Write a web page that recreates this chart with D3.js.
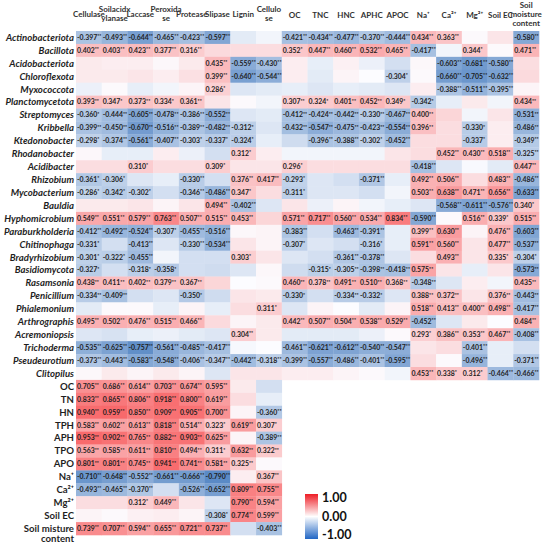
<!DOCTYPE html>
<html><head><meta charset="utf-8">
<script src="https://cdn.jsdelivr.net/npm/d3@7"></script>
<style>
body{margin:0;background:#fff;}
svg{display:block;font-family:Lato,"Open Sans",sans-serif;}
</style></head><body>
<svg id="chart" width="550" height="547"></svg>
<script>
// ---- column categories ----
const enzymeCols = ["Cellulase","Soilacidx\nylanase","Laccase","Peroxida\nse","Protease","Slipase","Lignin","Cellulo\nse"];
const soilCols = ["OC","TNC","HNC","APHC","APOC","Na⁺","Ca²⁺","Mg²⁺","Soil EC","Soil\nmoisture\ncontent"];

// ---- row categories ----
const microbeRows = ["Actinobacteriota","Bacillota","Acidobacteriota","Chloroflexota","Myxococcota","Planctomycetota","Streptomyces","Kribbella","Ktedonobacter","Rhodanobacter","Acidibacter","Rhizobium","Mycobacterium","Bauldia","Hyphomicrobium","Paraburkholderia","Chitinophaga","Bradyrhizobium","Basidiomycota","Rasamsonia","Penicillium","Phialemonium","Arthrographis","Acremoniopsis","Trichoderma","Pseudeurotium","Clitopilus"];
const soilRows = ["OC","TN","HN","TPH","APH","TPO","APO","Na⁺","Ca²⁺","Mg²⁺","Soil EC","Soil misture\ncontent"];

// ---- correlation values (strings = printed significant values; numbers = unlabeled cells, estimated from colour) ----
const microbeValues = [
 ["-0.397**","-0.493**","-0.644**","-0.465**","-0.423**","-0.597**",-0.12,-0.05,"-0.421**","-0.434**","-0.477**","-0.370**","-0.444**","0.434**","0.363**",0.02,0.15,"-0.580**"],
 ["0.402**","0.403**","0.423**","0.377**","0.316**",0.22,0.2,0.2,"0.352*","0.447**","0.460**","0.532**","0.465**","-0.417**",-0.05,"0.344*",0.02,"0.471**"],
 [0.12,0.1,0.1,0.03,0.12,"0.435**","-0.559**","-0.430**",0.1,-0.1,0.08,-0.08,-0.2,0.03,"-0.603**","-0.681**","-0.580**",0.2],
 [0.12,0.12,0.15,0.1,0.18,"0.399**","-0.640**","-0.544**",0.1,-0.12,0.05,0,"-0.304*",0.02,"-0.660**","-0.705**","-0.632**",0.22],
 [-0.08,0.02,-0.1,-0.05,0.05,"0.286*",-0.15,-0.12,-0.1,-0.15,-0.1,-0.12,-0.15,0.1,"-0.388**","-0.511**","-0.395**",0.05],
 ["0.393**","0.347*","0.373**","0.334*","0.361**",0.15,0.02,-0.05,"0.307**","0.324*","0.401**","0.452**","0.349*","-0.342*",-0.1,0.12,-0.05,"0.434**"],
 ["-0.360*","-0.444**","-0.605**","-0.478**","-0.386**","-0.552**",-0.15,-0.12,"-0.412**","-0.424**","-0.442**","-0.330**","-0.467**","0.400**",0.25,-0.05,0.15,"-0.531**"],
 ["-0.399**","-0.450**","-0.670**","-0.516**","-0.389**","-0.482**","-0.312*",-0.15,"-0.432**","-0.547**","-0.475**","-0.423**","-0.554**","0.396**",0.2,"-0.330*",0.1,"-0.486**"],
 ["-0.298*","-0.374**","-0.561**","-0.407**","-0.303*","-0.337*","-0.324*",-0.1,-0.22,"-0.396**","-0.388**","-0.302*","-0.452**",0.2,0.2,"-0.337*",0.1,"-0.349**"],
 [0.03,-0.1,-0.1,0.1,-0.08,-0.2,"0.312*",0.1,-0.05,-0.05,-0.05,-0.05,0.15,0.2,"0.452**","0.430**","0.518**","-0.325**"],
 [0.2,0.2,"0.310*",0.2,0.2,"0.309*",0.15,0.15,"0.296*",0.2,0.2,0.2,0.2,"-0.418**",-0.15,-0.02,-0.12,"0.447**"],
 ["-0.361*","-0.306*",-0.15,-0.1,"-0.330**",-0.2,"0.376**","0.417**","-0.293*",-0.15,-0.2,"-0.371**",-0.1,"0.492**","0.506**",0.2,"0.483**","-0.486**"],
 ["-0.286*","-0.342*","-0.302*",-0.2,"-0.346**","-0.486**","0.347*",0.2,"-0.311*",-0.15,-0.15,-0.2,-0.05,"0.503**","0.638**","0.471**","0.656**","-0.633**"],
 [0.12,0.12,0.15,0.05,0.15,"0.494**","-0.402**",-0.15,0.15,-0.08,0.05,-0.05,-0.1,-0.15,"-0.568**","-0.611**","-0.576**","0.340*"],
 ["0.549**","0.551**","0.579**","0.763**","0.507**","0.515**","0.453**",0.25,"0.571**","0.717**","0.560**","0.534**","0.834**","-0.590**",0.02,"0.516**","0.339*","0.515**"],
 ["-0.412**","-0.492**","-0.524**","-0.307*","-0.455**","-0.516**",0.03,0.05,"-0.383**",-0.2,"-0.463**","-0.391**",-0.1,"0.399**","0.630**",0.05,"0.476**","-0.603**"],
 ["-0.331*",-0.2,"-0.413**",-0.15,"-0.330**","-0.534**",0.15,0.05,"-0.307*",-0.15,-0.2,"-0.316*",-0.1,"0.591**","0.560**",0.15,"0.477**","-0.537**"],
 ["-0.301*","-0.322*","-0.455**",-0.05,-0.2,-0.2,"0.303*",0.15,-0.15,-0.2,"-0.361**","-0.378**",-0.15,0.2,"0.493**",0.15,"0.335*","-0.304*"],
 ["-0.327*",-0.2,"-0.318*","-0.358*",-0.2,-0.22,-0.15,0.03,-0.22,"-0.315*","-0.305**","-0.398**","-0.418**","0.575**",0.15,-0.1,0.15,"-0.573**"],
 ["0.438**","0.411**","0.402**","0.379**","0.367**",0.25,0,0.02,"0.460**","0.378**","0.491**","0.510**","0.368**","-0.348**",-0.15,0.1,-0.05,"0.435**"],
 ["-0.334**","-0.409**",-0.2,-0.15,"-0.350*",-0.22,0.15,0.12,"-0.330*",-0.2,"-0.334**","-0.332*",-0.15,"0.388**","0.372**",0.15,"0.376**","-0.443**"],
 [-0.12,0.02,0.02,-0.1,0.05,-0.1,0.2,"0.311*",-0.15,0.05,0,-0.12,0.05,"0.518**","0.413**","0.400**","0.498**","-0.417**"],
 ["0.495**","0.502**","0.476**","0.515**","0.466**",0.22,0.05,0.12,"0.442**","0.507**","0.504**","0.538**","0.529**","-0.452**",-0.15,0.12,0,"0.484**"],
 [-0.15,-0.18,-0.1,-0.08,-0.12,-0.15,"0.304**",0.12,-0.12,-0.12,-0.12,-0.08,0.02,"0.293*","0.386**","0.353**","0.467**","-0.408**"],
 ["-0.535**","-0.625**","-0.757**","-0.561**","-0.485**","-0.417**",-0.03,0,"-0.461**","-0.621**","-0.612**","-0.540**","-0.547**",0.15,0.2,"-0.401**",-0.1,-0.2],
 ["-0.373**","-0.443**","-0.583**","-0.548**","-0.406**","-0.347**","-0.442**","-0.318**","-0.399**","-0.557**","-0.486**","-0.401**","-0.595**",0.2,0.02,"-0.496**",-0.1,"-0.371**"],
 [0.03,0.12,0.05,0.12,0.05,-0.15,0.15,0.15,0.1,0.1,0.05,0.02,-0.05,"0.453**","0.338*","0.312*","-0.464**","-0.466**"]
];
const soilValues = [
 ["0.705**","0.686**","0.614**","0.703**","0.674**","0.595**",0.12,-0.2],
 ["0.833**","0.865**","0.806**","0.918**","0.800**","0.619**",0.2,-0.1],
 ["0.940**","0.959**","0.850**","0.909**","0.905**","0.700**",0.05,"-0.360**"],
 ["0.583**","0.602**","0.613**","0.818**","0.514**","0.323*","0.619**","0.307*"],
 ["0.953**","0.902**","0.765**","0.882**","0.903**","0.625**",0.05,"-0.389**"],
 ["0.563**","0.585**","0.611**","0.810**","0.494**","0.311*","0.632**","0.322**"],
 ["0.801**","0.801**","0.745**","0.941**","0.741**","0.581**","0.325**",0.02],
 ["-0.710**","-0.648**","-0.552**","-0.661**","-0.666**","-0.790**",0.1,"0.367**"],
 ["-0.493**","-0.465**","-0.370**",-0.2,"-0.526**","-0.652**","0.809**","0.755**"],
 [0.2,0.2,"0.312*","0.449**",0.15,-0.15,"0.790**","0.594**"],
 [0.05,0.02,0.08,0.1,0.05,"-0.308*","0.774**","0.599**"],
 ["0.739**","0.707**","0.594**","0.655**","0.721**","0.737**",-0.2,"-0.403**"]
];

// ---- legend ticks ----
const legendValues = [1, 0, -1];
const legendLabels = ["1.00", "0.00", "-1.00"];

const svg = d3.select("#chart");
const cols = enzymeCols.concat(soilCols);
const rows = microbeRows.concat(soilRows);
const x = d3.scaleBand().domain(cols).range([76, 539]);
const y = d3.scaleBand().domain(rows).range([31, 535]);
const color = d3.scaleLinear().domain([-0.79, 0, 0.959])
  .range(["#5A8AC6", "#FCFCFF", "#F8696B"]).clamp(true);

const cells = [];
microbeValues.forEach((r, i) => r.forEach((v, j) => cells.push({row: microbeRows[i], col: cols[j], v})));
soilValues.forEach((r, i) => r.forEach((v, j) => cells.push({row: soilRows[i], col: cols[j], v})));
cells.forEach(c => {
  c.num = typeof c.v === "string" ? parseFloat(c.v) : c.v;
  c.label = typeof c.v === "string" ? c.v.replace(/\*+$/, "") : null;
  c.stars = typeof c.v === "string" ? (c.v.match(/\*+$/) || [""])[0] : "";
});

svg.append("g").selectAll("rect").data(cells).join("rect")
  .attr("x", d => x(d.col)).attr("y", d => y(d.row))
  .attr("width", x.bandwidth() + 0.3).attr("height", y.bandwidth() + 0.3)
  .attr("fill", d => color(d.num));

const txt = svg.append("g").selectAll("text").data(cells.filter(d => d.label)).join("text")
  .attr("x", d => x(d.col) + 1).attr("y", d => y(d.row) + y.bandwidth() / 2)
  .attr("dy", "0.35em")
  .style("font-size", "6.9px").style("font-weight", 700).attr("fill", "#1e1e1e");
txt.append("tspan").text(d => d.label);
txt.append("tspan").text(d => d.stars).style("font-size", "5px").attr("dy", "-1.8");

// row labels
const rowG = svg.append("g");
rows.forEach(name => {
  const lines = name.split("\n");
  const italic = microbeRows.includes(name);
  const t = rowG.append("text")
    .attr("x", 74).attr("y", y(name) + y.bandwidth() / 2)
    .attr("text-anchor", "end").attr("dy", "0.35em")
    .style("font-size", italic ? "9.6px" : "9.6px")
    .style("font-weight", 700).style("font-style", italic ? "italic" : "normal")
    .attr("fill", "#1f1f1f");
  lines.forEach((l, k) => t.append("tspan").attr("x", 74).attr("dy", k === 0 ? "0.35em" : "1.05em").text(l));
});

// column header labels
const colG = svg.append("g");
cols.forEach(name => {
  const lines = name.split("\n");
  const cx = x(name) + x.bandwidth() / 2;
  const center = enzymeCols.includes(name) ? 14 : 15;
  lines.forEach((l, k) => {
    colG.append("text").attr("x", cx)
      .attr("y", (lines.length === 3 ? 14 : center) + (k - (lines.length - 1) / 2) * 9)
      .attr("dy", "0.35em").attr("text-anchor", "middle")
      .style("font-size", "8px").style("font-weight", 700).attr("fill", "#333")
      .text(l);
  });
});

// legend
const grad = svg.append("defs").append("linearGradient").attr("id", "lg")
  .attr("x1", 0).attr("x2", 0).attr("y1", 0).attr("y2", 1);
grad.append("stop").attr("offset", "0%").attr("stop-color", "#ee1d25");
grad.append("stop").attr("offset", "50%").attr("stop-color", "#ffffff");
grad.append("stop").attr("offset", "100%").attr("stop-color", "#2166c4");
const ly = d3.scaleLinear().domain([1, -1]).range([498, 535]);
svg.append("rect").attr("x", 305).attr("y", ly(1) - 4).attr("width", 13)
  .attr("height", ly(-1) - ly(1) + 8).attr("fill", "url(#lg)");
svg.append("g").selectAll("text").data(legendValues).join("text")
  .attr("x", 322).attr("y", d => ly(d)).attr("dy", "0.35em")
  .style("font-size", "12.5px").style("font-weight", 700).attr("fill", "#111")
  .text((d, i) => legendLabels[i]);
</script>
</body></html>
